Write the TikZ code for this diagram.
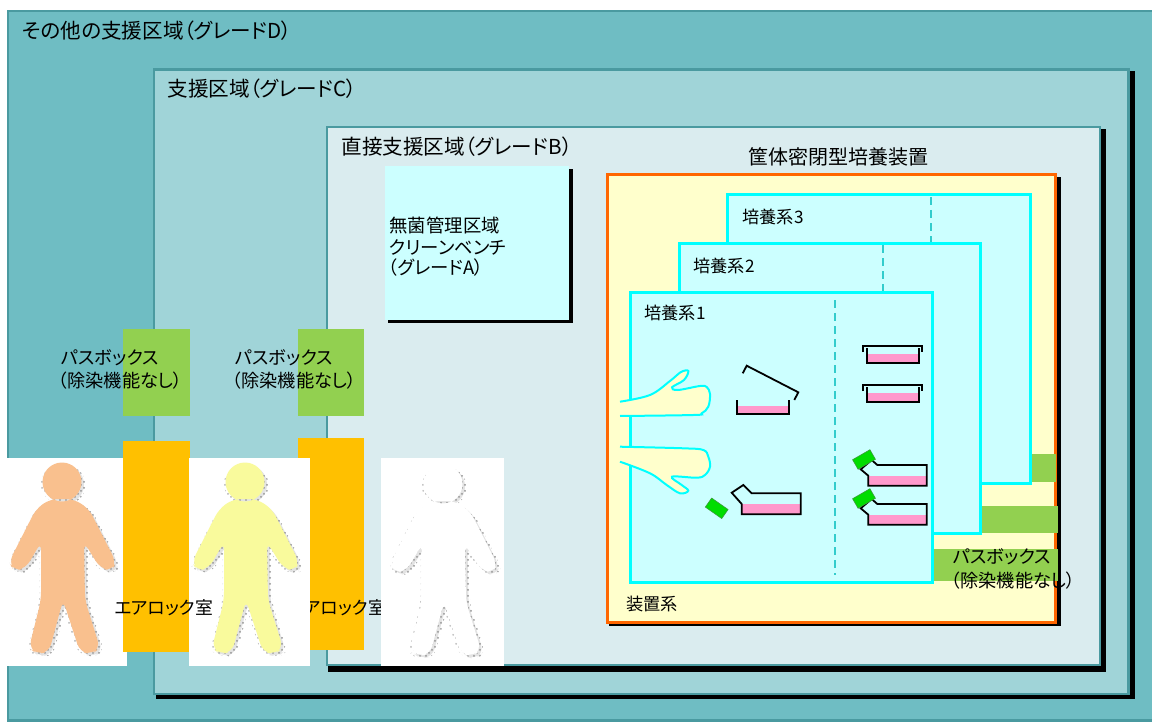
\documentclass[tikz,border=0pt]{standalone}
\usepackage{fontspec}
\setmainfont{Noto Sans CJK JP}[RawFeature={+palt}]
\usetikzlibrary{patterns}

\definecolor{zoneD}{HTML}{6FBDC3}
\definecolor{zoneC}{HTML}{A0D4D8}
\definecolor{zoneB}{HTML}{DAECEF}
\definecolor{zoneline}{HTML}{4A9AA0}
\definecolor{benchfill}{HTML}{CCFFFF}
\definecolor{encfill}{HTML}{FFFFCC}
\definecolor{encline}{HTML}{FF6600}
\definecolor{cultline}{HTML}{00FFFF}
\definecolor{dashcol}{HTML}{33CCCC}
\definecolor{passgreen}{HTML}{92D050}
\definecolor{lockorange}{HTML}{FFC000}
\definecolor{medium}{HTML}{FF99CC}
\definecolor{capgreen}{HTML}{00DD00}
\definecolor{capline}{HTML}{3A9A3A}
\definecolor{skinA}{HTML}{F9C08E}
\definecolor{skinB}{HTML}{F9FA9C}

\tikzset{
  zone/.style={draw=zoneline, line width=1.4pt},
  zonelabel/.style={inner sep=0pt, anchor=west, font=\fontsize{10.3}{12}\selectfont},
  benchlabel/.style={inner sep=0pt, anchor=west, font=\fontsize{9.2}{11}\selectfont},
  smalllabel/.style={inner sep=0pt, anchor=west, font=\fontsize{9.1}{11}\selectfont},
  locklabel/.style={inner sep=0pt, anchor=west, font=\fontsize{8.9}{11}\selectfont},
  cultlabel/.style={inner sep=0pt, anchor=west, font=\fontsize{8.6}{10}\selectfont},
  culture/.style={draw=cultline, fill=benchfill, line width=1.5pt},
  divider/.style={draw=dashcol, line width=1pt, dash pattern=on 4pt off 2.5pt},
  vessel/.style={draw=black, line width=0.9pt},
  flaskcap/.style={fill=capgreen, draw=capline, line width=0.3pt, minimum width=10pt,
    minimum height=5.5pt, inner sep=0pt},
  hand/.style={draw=cultline, line width=1pt},
  silhouette/.style={insert path={(0,0) circle[radius=19.5]
    (-12,17) [rounded corners=4pt] -- (-26,27) -- (-53,80) -- (-48,89) -- (-36,86) -- (-21,60)
    -- (-21,118) -- (-33,166) -- (-25,172) -- (-13,170) -- (1,118) -- (18,170) -- (30,172)
    -- (38,166) -- (23,118) -- (22,60) -- (38,86) -- (50,89) -- (54,80) -- (27,27) -- (12,17)
    -- cycle}},
  pics/person/.style={code={
    % speckled shadow around the figure
    \fill[gray!22, shift={(2.5,2.5)}] [silhouette];
    \path[pattern=crosshatch dots, pattern color=gray!85, shift={(4,3)}] [silhouette];
    \path[pattern=crosshatch dots, pattern color=gray!60, shift={(-1.5,2)}] [silhouette];
    % figure
    \fill[#1] [silhouette];
  }}
}

\begin{document}
\begin{tikzpicture}[x=0.5pt,y=-0.5pt]
\useasboundingbox (0,0) rectangle (1152,722);
\fill[white] (0,0) rectangle (1152,722);

% ---- grade D: outer support area
\path[zone, fill=zoneD] (8,11) rectangle (1170,720.5);
\node[zonelabel] (labD) at (22,31) {その他の支援区域（グレードD）};

% ---- grade C
\fill[black] (156,71) rectangle (1135,699);
\path[zone, fill=zoneC] (154,69.5) rectangle (1128.5,694);
\node[zonelabel] (labC) at (167,89) {支援区域（グレードC）};

% ---- grade B
\fill[black] (328,129) rectangle (1106,672);
\path[zone, fill=zoneB] (327,127) rectangle (1100,665);
\node[zonelabel] (labB) at (341,147) {直接支援区域（グレードB）};

% ---- grade A: clean bench
\fill[black] (388,169) rectangle (572.5,322.5);
\fill[benchfill] (385,166) rectangle (569,320);
\node[benchlabel] (benchA) at (389,225) {無菌管理区域};
\node[benchlabel] (benchB) at (389,247) {クリーンベンチ};
\node[benchlabel] (benchC) at (388,268) {（グレードA）};

% ---- sealed cell culture enclosure
\node[inner sep=0pt, font=\fontsize{10}{12}\selectfont] (encLabel) at (838,157) {筐体密閉型培養装置};
\fill[black] (609,177) rectangle (1060.5,626);
\path[draw=encline, line width=1.5pt, fill=encfill] (607,174.5) rectangle (1055,622);
\node[cultlabel] (sysLabel) at (626,604) {装置系};

% pass boxes on the enclosure wall
\fill[passgreen] (1030.5,454) rectangle (1056,482);
\fill[passgreen] (981,506) rectangle (1058,533);
\fill[passgreen] (933,549) rectangle (1058,581);

% culture units
\path[culture] (727,195) rectangle (1030,483);
\draw[divider] (931,197) -- (931,481);
\node[cultlabel] (cult3) at (742,217) {培養系3};

\path[culture] (679,243) rectangle (980,533);
\draw[divider] (883,245) -- (883,531);
\node[cultlabel] (cult2) at (693,266) {培養系2};

\path[culture] (630,292) rectangle (932,582);
\draw[divider] (835,300) -- (835,575);
\node[cultlabel] (cult1) at (644,313) {培養系1};

\node[smalllabel] (pbR1) at (953,557) {パスボックス};
\node[smalllabel] (pbR2) at (951,581) {（除染機能なし）};

% open petri dish with its lid lifted
\fill[medium] (737,406) rectangle (789,414);
\draw[vessel] (736.7,400) -- (736.7,414.3) -- (789.3,414.3) -- (789.3,400);
\draw[vessel] (742.7,373.3) -- (746.7,365.7) -- (798.3,392.3) -- (794.3,400);

% closed petri dishes
\foreach \dy in {0,39} {
  \fill[medium] (867,354+\dy) rectangle (919,363+\dy);
  \draw[vessel] (866.7,348.3+\dy) -- (866.7,363.3+\dy) -- (919,363.3+\dy) -- (919,348.3+\dy);
  \draw[vessel] (863.3,352+\dy) -- (863.3,346+\dy) -- (921.7,346+\dy) -- (921.7,352+\dy);
}

% opened flask and its cap
\fill[medium] (741.7,504) rectangle (800.7,514.3);
\draw[vessel] (800.7,493.3) -- (751.7,493.3) -- (743.3,485) -- (731.7,492.7)
  -- (741.7,504) -- (741.7,514.3) -- (800.7,514.3) -- cycle;
\node[flaskcap, rotate=-35] (capOpen) at (716.7,508.3) {};

% capped flasks
\foreach \dy/\nm in {0/capA,39/capB} {
  \fill[medium] (868.3,475.7+\dy) rectangle (926.7,485.7+\dy);
  \draw[vessel] (926.7,465+\dy) -- (877.3,465+\dy) -- (871.7,460+\dy) -- (860.7,469.3+\dy)
    -- (868.3,475.7+\dy) -- (868.3,485.7+\dy) -- (926.7,485.7+\dy) -- cycle;
  \node[flaskcap, rotate=30] (\nm) at (864,459.5+\dy) {};
}

% gloved hands reaching into the unit
\fill[encfill] plot[smooth, tension=0.6] coordinates {(620,401.7) (650,395) (670,381) (681,372)
  (688.3,371) (684,380) (672,387.3) (678,390) (700,386) (706.7,387) (710,394) (708.3,406.7)
  (701.7,413.3) (693.3,415) (620,416)} -- cycle;
\draw[hand] plot[smooth, tension=0.6] coordinates {(620,401.7) (650,395) (670,381) (681,372)
  (688.3,371) (684,380) (672,387.3) (678,390) (700,386) (706.7,387) (710,394) (708.3,406.7)
  (701.7,413.3) (693.3,415) (620,416)};
\fill[encfill] plot[smooth, tension=0.6] coordinates {(620,446.7) (683.3,448.3) (703.3,450)
  (708.3,456.7) (710,466.7) (705,475) (696.7,477.7) (672,476.7) (681.7,485) (688.3,490.7)
  (680,493.3) (666.7,485) (650,473.3) (620,461.7)} -- cycle;
\draw[hand] plot[smooth, tension=0.6] coordinates {(620,446.7) (683.3,448.3) (703.3,450)
  (708.3,456.7) (710,466.7) (705,475) (696.7,477.7) (672,476.7) (681.7,485) (688.3,490.7)
  (680,493.3) (666.7,485) (650,473.3) (620,461.7)};

% ---- pass boxes and air locks between the zones
\fill[passgreen] (123,329) rectangle (190,416);
\fill[passgreen] (298,329) rectangle (364,416);
\node[smalllabel] (pbL1a) at (61,358) {パスボックス};
\node[smalllabel] (pbL1b) at (58,381) {（除染機能なし）};
\node[smalllabel] (pbL2a) at (235,358) {パスボックス};
\node[smalllabel] (pbL2b) at (232,381) {（除染機能なし）};

% operator in grade D
\fill[white] (5,458) rectangle (127,666);
\pic at (62,482) {person=skinA};

\fill[lockorange] (123,441) rectangle (190,652);
\fill[lockorange] (298,438) rectangle (364,650);
\node[locklabel] (lock2) at (287,608) {エアロック室};

% operator in grade C
\fill[white] (189,458) rectangle (310,666);
\pic at (245,482) {person=skinB};
\node[locklabel] (lock1) at (114,608) {エアロック室};

% operator in grade B
\fill[white] (381,458) rectangle (504,666);
\pic at (443,484) {person=white};

\end{tikzpicture}
\end{document}
